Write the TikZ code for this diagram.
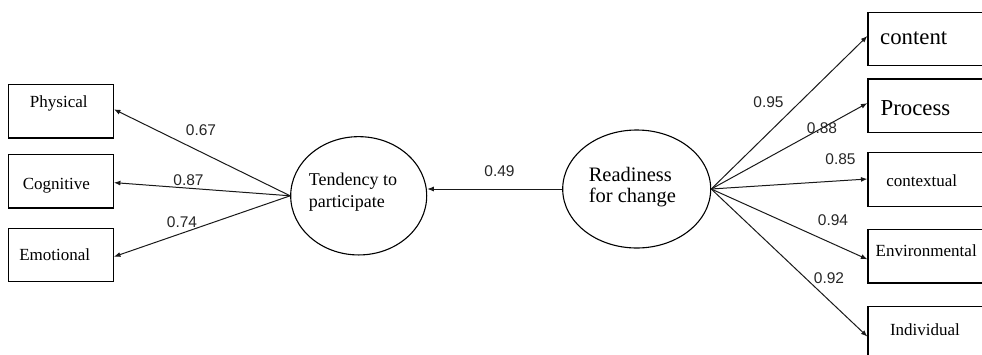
\documentclass[tikz,border=0pt]{standalone}
\usepackage{fontspec}
\setmainfont{Liberation Serif}
\newfontfamily\numfont{Liberation Sans}
\usetikzlibrary{shapes.geometric,arrows.meta}
\begin{document}
\begin{tikzpicture}[x=1bp,y=-1bp,
    indicator/.style={draw,line width=1.2bp,minimum width=105bp,minimum height=53.4bp,inner sep=0pt},
    rindicator/.style={indicator,minimum width=150bp},
    latent/.style={draw,ellipse,line width=1.1bp,inner sep=0pt},
    item/.style={inner sep=0pt,anchor=base,font=\fontsize{17bp}{20bp}\selectfont},
    bigitem/.style={item,font=\fontsize{22.8bp}{26bp}\selectfont},
    loading/.style={draw=black!90,line width=1bp,-{Latex[length=6.5bp,width=5bp]}},
    coef/.style={inner sep=0pt,text=black!85,font=\numfont\fontsize{15.5bp}{18bp}\selectfont}]
    \useasboundingbox (0,0) rectangle (982,354);
    \clip (0,0) rectangle (982,354);
    %% Latent variables
    \node[latent,minimum width=136bp,minimum height=118.3bp] (tend) at (358.7,195.8) {};
    \node[latent,minimum width=148bp,minimum height=118bp] (ready) at (636.7,189) {};
    \node[inner sep=0pt,align=left,font=\fontsize{18bp}{22bp}\selectfont] (tendtxt) at (353,191.8) {Tendency to\\participate};
    \node[inner sep=0pt,align=left,font=\fontsize{20.5bp}{21bp}\selectfont] (readytxt) at (632.3,187.4) {Readiness\\for change};
    %% Tendency indicators
    \node[indicator] (phys) at (60.8,111.3) {};
    \node[indicator] (cogn) at (60.8,181.3) {};
    \node[indicator] (emot) at (60.8,255) {};
    \node[item] (physt) at (58.8,107.7) {Physical};
    \node[item] (cognt) at (56.3,189.3) {Cognitive};
    \node[item] (emott) at (54.7,260.7) {Emotional};
    %% Readiness indicators
    \node[rindicator] (cont) at (943,39) {};
    \node[rindicator] (proc) at (943,105.7) {};
    \node[rindicator] (ctxt) at (943,179.5) {};
    \node[rindicator] (envi) at (943,256.3) {};
    \node[rindicator] (indi) at (943,333.3) {};
    \node[bigitem] (contt) at (913.7,44.3) {content};
    \node[bigitem] (proct) at (915.5,115) {Process};
    \node[item] (ctxtt) at (921.7,186.7) {contextual};
    \node[item] (envit) at (926.2,256) {Environmental};
    \node[item] (indit) at (925,335.7) {Individual};
    %% Paths
    \draw[loading] (tend.west) -- ([yshift=2bp]phys.east);
    \draw[loading] (tend.west) -- ([yshift=-1.3bp]cogn.east);
    \draw[loading] (tend.west) -- ([yshift=-1.7bp]emot.east);
    \draw[loading] (ready.west) -- (ready.west -| tend.east);
    \draw[loading] (ready.east) -- ([yshift=3bp]cont.west);
    \draw[loading] (ready.east) -- ([yshift=2.6bp]proc.west);
    \draw[loading] (ready.east) -- ([yshift=0.5bp]ctxt.west);
    \draw[loading] (ready.east) -- ([yshift=-3bp]envi.west);
    \draw[loading] (ready.east) -- ([yshift=-3.3bp]indi.west);
    %% Coefficients
    \node[coef] (c1) at (201,130) {0.67};
    \node[coef] (c2) at (188.5,180) {0.87};
    \node[coef] (c3) at (182,222) {0.74};
    \node[coef] (c4) at (499.5,171) {0.49};
    \node[coef] (c5) at (768.5,102) {0.95};
    \node[coef] (c6) at (822,128.5) {0.88};
    \node[coef] (c7) at (840.5,159.5) {0.85};
    \node[coef] (c8) at (833,220.5) {0.94};
    \node[coef] (c9) at (829,278) {0.92};
\end{tikzpicture}
\end{document}
